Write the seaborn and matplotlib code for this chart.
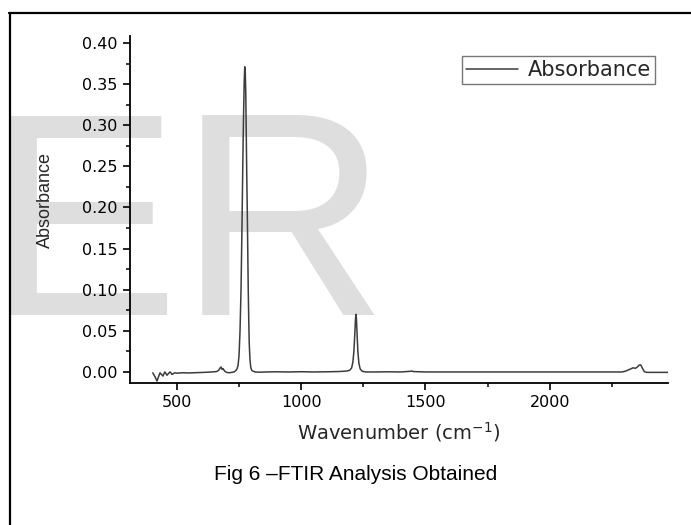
import numpy as np
import pandas as pd
import matplotlib.pyplot as plt
import seaborn as sns
from matplotlib.lines import Line2D
from matplotlib.ticker import MultipleLocator, FormatStrFormatter

# spectrum
wavenumber = [403, 412, 420, 426, 432, 438, 444, 448, 452, 456, 460, 466, 472, 476,
              480, 486, 492, 500, 520, 550, 580, 610, 640, 660, 668, 674, 678, 682,
              686, 692, 700, 710, 720, 730, 738, 742, 746, 750, 754, 758, 762, 765,
              768, 771, 773, 775, 777, 779, 781, 783, 785, 787, 789, 791, 794, 797,
              801, 806, 815, 830, 860, 900, 950, 1000, 1050, 1100, 1150, 1180, 1195,
              1203, 1208, 1212, 1215, 1218, 1220, 1222, 1225, 1228, 1232, 1237, 1243,
              1250, 1260, 1300, 1350, 1400, 1440, 1445, 1450, 1500, 1600, 1700, 1800,
              1900, 2000, 2100, 2200, 2270, 2290, 2305, 2320, 2335, 2345, 2352, 2360,
              2366, 2372, 2380, 2390, 2420, 2475]
absorbance = [-0.001, -0.006, -0.011, -0.006, -0.001, -0.003, -0.005, -0.002, 0.000,
              -0.002, -0.004, -0.002, 0.000, -0.001, -0.003, -0.002, -0.001, -0.0015,
              -0.001, -0.0012, -0.0008, -0.0005, 0.000, 0.0005, 0.002, 0.005, 0.006,
              0.003, 0.004, 0.001, -0.0005, -0.001, -0.0005, 0.000, 0.002, 0.004,
              0.008, 0.020, 0.050, 0.100, 0.180, 0.250, 0.310, 0.355, 0.371, 0.365,
              0.340, 0.290, 0.240, 0.200, 0.150, 0.100, 0.065, 0.035, 0.015, 0.006,
              0.002, 0.001, 0.000, -0.0003, 0.000, 0.0002, 0.000, 0.0003, 0.000,
              0.0002, 0.0005, 0.001, 0.002, 0.005, 0.012, 0.025, 0.042, 0.062, 0.070,
              0.066, 0.045, 0.025, 0.011, 0.004, 0.0015, 0.0005, 0.000, 0.000, 0.0002,
              0.000, 0.0008, 0.0012, 0.0005, 0.000, 0.000, 0.000, 0.000, 0.000, 0.000,
              0.000, 0.000, 0.000, 0.000, 0.001, 0.003, 0.005, 0.0045, 0.006, 0.0085,
              0.0085, 0.005, 0.0005, -0.0005, -0.0005, -0.0005]

x_ticks = [500, 1000, 1500, 2000]

df = pd.DataFrame({"Wavenumber": wavenumber, "Absorbance": absorbance})

sns.set_theme(style="ticks")
plt.rcParams["font.family"] = ["DejaVu Sans"]
plt.rcParams["mathtext.fontset"] = "dejavusans"

fig = plt.figure(figsize=(6.91, 5.25), dpi=100)
fig.patch.set_facecolor("white")

# watermark behind the plot
fig.text(-0.022, 0.400, "ER", fontsize=209, family="Liberation Sans",
         color="#dedede", zorder=-1, ha="left", va="baseline")

# page frame (left and top edges)
fig.add_artist(Line2D([9.5 / 691, 9.5 / 691], [0, 1 - 13 / 525],
                      transform=fig.transFigure, color="black", lw=1.6))
fig.add_artist(Line2D([9 / 691, 1], [1 - 13 / 525, 1 - 13 / 525],
                      transform=fig.transFigure, color="black", lw=1.6))

ax = fig.add_axes([0.188, 0.2705, 0.7785, 0.661])
ax.set_facecolor("none")

sns.lineplot(data=df, x="Wavenumber", y="Absorbance", ax=ax, color="#3c3c3c",
             lw=1.1, label="Absorbance", estimator=None, sort=False)

ax.set_xlim(311, 2475)
ax.set_ylim(-0.0134, 0.4085)
ax.set_xticks(x_ticks)
ax.xaxis.set_minor_locator(MultipleLocator(250))
ax.yaxis.set_major_locator(MultipleLocator(0.05))
ax.yaxis.set_minor_locator(MultipleLocator(0.025))
ax.yaxis.set_major_formatter(FormatStrFormatter("%.2f"))

sns.despine(ax=ax)
for side in ["left", "bottom"]:
    ax.spines[side].set_linewidth(1.3)
    ax.spines[side].set_color("black")

ax.tick_params(which="major", direction="out", length=5, width=1.2,
               labelsize=11.5, pad=4, colors="black")
ax.tick_params(which="minor", direction="out", length=2.6, width=1.1, colors="black")

ax.set_xlabel("Wavenumber (cm$^{-1}$)", fontsize=14, labelpad=7)
ax.set_ylabel("Absorbance", fontsize=13, family="Liberation Sans")
ax.yaxis.set_label_coords(-0.141, 0.527)

leg = ax.legend(loc="upper right", bbox_to_anchor=(0.976, 0.942), borderaxespad=0,
                fontsize=15, frameon=True, fancybox=False, handlelength=2.5,
                handletextpad=0.45, borderpad=0.2)
leg.get_frame().set_edgecolor("#555555")
leg.get_frame().set_linewidth(1.0)

fig.text(0.514, 0.097, "Fig 6 \u2013FTIR Analysis Obtained", fontsize=15,
         family="Liberation Sans", ha="center", va="center", color="black")

fig.savefig("out.png", dpi=100)
